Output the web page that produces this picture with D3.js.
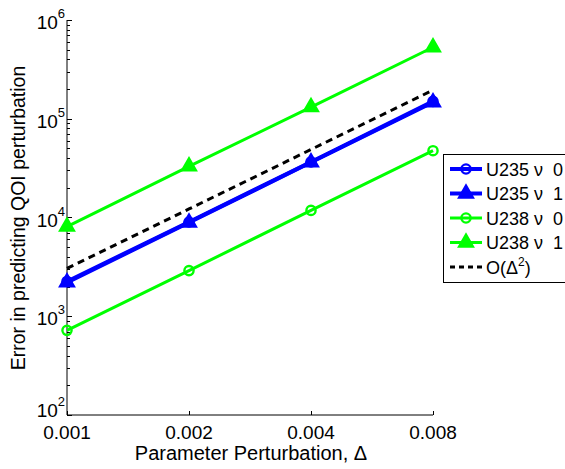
<!DOCTYPE html>
<html><head><meta charset="utf-8">
<script src="https://cdn.jsdelivr.net/npm/d3@7"></script>
<style>body{margin:0;background:#fff}svg{display:block;font-family:"Liberation Sans",Arial,sans-serif}</style>
</head><body><svg id="c" width="565" height="469"></svg>
<script>
const deltas = [0.001, 0.002, 0.004, 0.008];
const u235nu0 = [2250, 9000, 36500, 150000];
const u235nu1 = [2200, 8900, 36200, 147000];
const u238nu0 = [720, 2900, 11800, 47500];
const u238nu1 = [8100, 33000, 131000, 530000];
const orderRef = [3050, 12200, 48800, 195000];
const xTickLabels = ["0.001", "0.002", "0.004", "0.008"];
const yTickExps = [2, 3, 4, 5, 6];

const series = [
  {name: "U235 \u03bd  0", values: u235nu0, color: "#0000ff", width: 4, marker: "circle"},
  {name: "U235 \u03bd  1", values: u235nu1, color: "#0000ff", width: 4, marker: "triangle"},
  {name: "U238 \u03bd  0", values: u238nu0, color: "#00ff00", width: 3, marker: "circle"},
  {name: "U238 \u03bd  1", values: u238nu1, color: "#00ff00", width: 3, marker: "triangle"},
  {name: "O(\u0394", values: orderRef, color: "#000000", width: 3, marker: "none", dash: "7,5", sup: "2"}
];

const svg = d3.select("#c");
const L = 67, R = 433, T = 20, B = 415;
const x = d3.scaleLog().domain([0.001, 0.008]).range([L, R]);
const y = d3.scaleLog().domain([100, 1e6]).range([B, T]);

const ax = svg.append("g");
ax.append("line").attr("x1", L).attr("x2", L).attr("y1", T).attr("y2", B).attr("stroke", "#000");
ax.append("line").attr("x1", L).attr("x2", R).attr("y1", B).attr("y2", B).attr("stroke", "#000");
for (let e = 2; e <= 6; e++) {
  for (let m = 1; m <= 9; m++) {
    const v = m * Math.pow(10, e);
    if (v > 1e6) break;
    const yy = Math.round(y(v)) + 0.5;
    ax.append("line").attr("x1", L).attr("x2", L + (m === 1 ? 5 : 3)).attr("y1", yy).attr("y2", yy).attr("stroke", "#000");
  }
}
deltas.forEach(d => {
  const xx = Math.round(x(d)) + 0.5;
  ax.append("line").attr("x1", xx).attr("x2", xx).attr("y1", B).attr("y2", B - 4).attr("stroke", "#000");
});
deltas.forEach((d, i) => {
  ax.append("text").attr("x", x(d)).attr("y", B + 24).attr("text-anchor", "middle")
    .attr("font-size", 19).text(xTickLabels[i]);
});
yTickExps.forEach(e => {
  const yy = y(Math.pow(10, e)) + (e === 2 ? 2 : 9);
  const t = ax.append("text").attr("x", 65).attr("y", yy).attr("text-anchor", "end").attr("font-size", 19);
  t.append("tspan").text("10");
  t.append("tspan").attr("dy", -11).attr("font-size", 13).text(e);
});
ax.append("text").attr("x", (L + R) / 2 + 1).attr("y", 460).attr("text-anchor", "middle").attr("font-size", 20)
  .text("Parameter Perturbation, \u0394");
ax.append("text").attr("transform", "translate(25,218) rotate(-90)").attr("text-anchor", "middle").attr("font-size", 19.5)
  .text("Error in predicting QOI perturbation");

const line = d3.line().x(d => x(d[0])).y(d => y(d[1]));
const tri = d3.symbol().type(d3.symbolTriangle).size(90);

function drawMarker(g, s, cx, cy) {
  if (s.marker === "circle") {
    g.append("circle").attr("cx", cx).attr("cy", cy).attr("r", 4.6).attr("fill", "none")
      .attr("stroke", s.color).attr("stroke-width", 2.4);
  } else if (s.marker === "triangle") {
    g.append("path").attr("d", tri).attr("transform", `translate(${cx},${cy})`)
      .attr("fill", s.color).attr("stroke", s.color).attr("stroke-width", 2);
  }
}

const plot = svg.append("g");
series.forEach(s => {
  const pts = deltas.map((d, i) => [d, s.values[i]]);
  plot.append("path").attr("d", line(pts)).attr("fill", "none").attr("stroke", s.color)
    .attr("stroke-width", s.width).attr("stroke-dasharray", s.dash || null);
  pts.forEach(p => drawMarker(plot, s, x(p[0]), y(p[1])));
});

const lg = svg.append("g");
lg.append("rect").attr("x", 443.5).attr("y", 154.5).attr("width", 140).attr("height", 128)
  .attr("fill", "#fff").attr("stroke", "#000").attr("stroke-width", 1);
series.forEach((s, i) => {
  const yy = 169 + i * 24.5;
  lg.append("line").attr("x1", 450).attr("x2", 482).attr("y1", yy).attr("y2", yy)
    .attr("stroke", s.color).attr("stroke-width", s.width).attr("stroke-dasharray", s.dash ? "5,4" : null);
  drawMarker(lg, s, 466, yy);
  const t = lg.append("text").attr("x", 486).attr("y", yy + 6.5).attr("font-size", 18)
    .attr("xml:space", "preserve").style("white-space", "pre");
  t.append("tspan").text(s.name);
  if (s.sup) {
    t.append("tspan").attr("dy", -8).attr("font-size", 12).text(s.sup);
    t.append("tspan").attr("dy", 8).text(")");
  }
});
</script></body></html>
